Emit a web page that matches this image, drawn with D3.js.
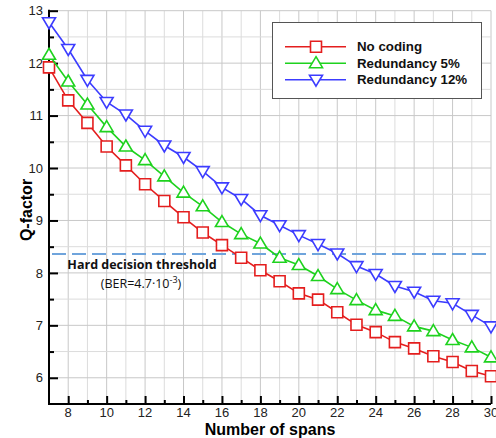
<!DOCTYPE html>
<html>
<head>
<meta charset="utf-8">
<script src="https://cdn.jsdelivr.net/npm/d3@7"></script>
<style>
html,body{margin:0;padding:0;background:#fff;}
svg{display:block;font-family:Arial,"Liberation Sans",sans-serif;}
</style>
</head>
<body>
<svg id="chart" width="496" height="438"></svg>
<script>
const spans = d3.range(7, 31);
const noCoding = [11.92,11.29,10.86,10.41,10.05,9.69,9.37,9.06,8.77,8.53,8.29,8.05,7.84,7.61,7.49,7.25,7.01,6.87,6.68,6.56,6.41,6.30,6.13,6.03];
const red5 = [12.16,11.65,11.21,10.78,10.41,10.15,9.84,9.53,9.27,8.97,8.74,8.56,8.29,8.15,7.94,7.69,7.48,7.29,7.18,6.98,6.89,6.72,6.58,6.39];
const red12 = [12.78,12.27,11.68,11.26,11.02,10.71,10.43,10.21,9.94,9.63,9.41,9.10,8.91,8.72,8.55,8.37,8.13,7.98,7.75,7.64,7.47,7.42,7.20,6.98];
const seriesNames = ["No coding","Redundancy 5%","Redundancy 12%"];
const seriesColors = ["#e41e1e","#1ed21e","#3c3cff"];
const seriesMarkers = ["square","triangleUp","triangleDown"];
const xTicks = [8,10,12,14,16,18,20,22,24,26,28,30];
const yTicks = [6,7,8,9,10,11,12,13];
const threshold = 8.36;
const thresholdLabel = "Hard decision threshold";

const series = [noCoding, red5, red12].map((vals,i)=>({
  name: seriesNames[i], color: seriesColors[i], marker: seriesMarkers[i],
  points: vals.map((v,j)=>({x: spans[j], y: v}))
}));

const svg = d3.select("#chart");
const x = d3.scaleLinear().domain([7,30]).range([49,491]);
const y = d3.scaleLinear().domain([5.5,13]).range([404,10.7]);

// grid
const g = svg.append("g");
g.selectAll("line.vg").data(d3.range(8,31)).enter().append("line")
  .attr("x1",d=>x(d)).attr("x2",d=>x(d)).attr("y1",y(5.5)).attr("y2",y(13))
  .attr("stroke",d=>d%2===0?"#c8c8c8":"#dcdcdc").attr("stroke-width",1);
g.selectAll("line.hg").data(d3.range(6,13.01,0.5)).enter().append("line")
  .attr("x1",x(7)).attr("x2",x(30)).attr("y1",d=>y(d)).attr("y2",d=>y(d))
  .attr("stroke",d=>Number.isInteger(d)?"#c8c8c8":"#dcdcdc").attr("stroke-width",1);

// threshold
svg.append("line").attr("x1",x(7)+3).attr("x2",x(30)).attr("y1",y(threshold)).attr("y2",y(threshold))
  .attr("stroke","#6fa4dc").attr("stroke-width",2.2).attr("stroke-dasharray","14,6");

svg.append("text").attr("x",142).attr("y",269).attr("text-anchor","middle")
  .attr("font-family","'Open Sans','Noto Sans',sans-serif").attr("font-weight","bold")
  .attr("font-size",12.5).attr("fill","#111").text(thresholdLabel);
const t2 = svg.append("text").attr("x",141).attr("y",288).attr("text-anchor","middle")
  .attr("font-family","'Open Sans','Noto Sans',sans-serif").attr("font-size",12.5).attr("fill","#111");
t2.append("tspan").text("(BER=4.7·10");
t2.append("tspan").attr("dy",-5).attr("font-size",9).text("-3");
t2.append("tspan").attr("dy",5).text(")");

// axes
const xAxis = d3.axisBottom(x).tickValues(d3.range(7,31)).tickSize(0).tickFormat("");
const axX = svg.append("g").attr("transform",`translate(0,${y(5.5)})`).call(xAxis);
axX.select(".domain").remove();
axX.selectAll(".tick").append("line").attr("y1",0).attr("y2",d=>d%2===0?-8:-4)
  .attr("stroke","#000").attr("stroke-width",2).attr("display",d=>d===7?"none":null);
svg.append("g").selectAll("text").data(xTicks).enter().append("text")
  .attr("x",d=>x(d)).attr("y",417).attr("text-anchor","middle").attr("font-size",13).attr("fill","#222").text(d=>d);

const yAxis = d3.axisLeft(y).tickValues(d3.range(6,13.01,0.5)).tickSize(0).tickFormat("");
const axY = svg.append("g").attr("transform",`translate(${x(7)},0)`).call(yAxis);
axY.select(".domain").remove();
axY.selectAll(".tick").append("line").attr("x1",0).attr("x2",d=>Number.isInteger(d)?9:5)
  .attr("stroke","#000").attr("stroke-width",2);
svg.append("g").selectAll("text").data(yTicks).enter().append("text")
  .attr("x",43).attr("y",d=>y(d)+4.6).attr("text-anchor","end").attr("font-size",13).attr("fill","#222").text(d=>d);

svg.append("line").attr("x1",x(7)).attr("x2",x(7)).attr("y1",y(13)-1).attr("y2",y(5.5)+1).attr("stroke","#000").attr("stroke-width",2);
svg.append("line").attr("x1",x(7)-1).attr("x2",x(30)).attr("y1",y(5.5)).attr("y2",y(5.5)).attr("stroke","#000").attr("stroke-width",2);

// axis titles
svg.append("text").attr("transform","translate(32,210) rotate(-90)").attr("text-anchor","middle")
  .attr("font-weight","bold").attr("font-size",16).attr("fill","#000").text("Q-factor");
svg.append("text").attr("x",270).attr("y",434.5).attr("text-anchor","middle")
  .attr("font-weight","bold").attr("font-size",16).attr("fill","#000").text("Number of spans");

// markers
function markerPath(type){
  if(type==="square") return "M-5.5,-5.5H5.5V5.5H-5.5Z";
  if(type==="triangleUp") return "M0,-6.5L6.5,4.5L-6.5,4.5Z";
  return "M0,6.5L6.5,-4.5L-6.5,-4.5Z";
}
const line = d3.line().x(d=>x(d.x)).y(d=>y(d.y));
series.forEach(s=>{
  svg.append("path").attr("d",line(s.points)).attr("fill","none").attr("stroke",s.color).attr("stroke-width",1.6);
  svg.append("g").selectAll("path").data(s.points).enter().append("path")
    .attr("transform",d=>`translate(${x(d.x)},${y(d.y)})`).attr("d",markerPath(s.marker))
    .attr("fill","#fff").attr("stroke",s.color).attr("stroke-width",1.6);
});

// legend
const lg = svg.append("g");
lg.append("rect").attr("x",272.5).attr("y",22.5).attr("width",209).attr("height",76)
  .attr("fill","#fff").attr("stroke","#555").attr("stroke-width",1);
series.forEach((s,i)=>{
  const ly = 46.7 + i*16.5;
  lg.append("line").attr("x1",285).attr("x2",346).attr("y1",ly).attr("y2",ly).attr("stroke",s.color).attr("stroke-width",1.6);
  lg.append("path").attr("transform",`translate(316,${ly})`).attr("d",markerPath(s.marker))
    .attr("fill","#fff").attr("stroke",s.color).attr("stroke-width",1.6);
  lg.append("text").attr("x",357).attr("y",ly+4.5).attr("font-weight","bold").attr("font-size",13.3).attr("fill","#111").text(s.name);
});
</script>
</body>
</html>
